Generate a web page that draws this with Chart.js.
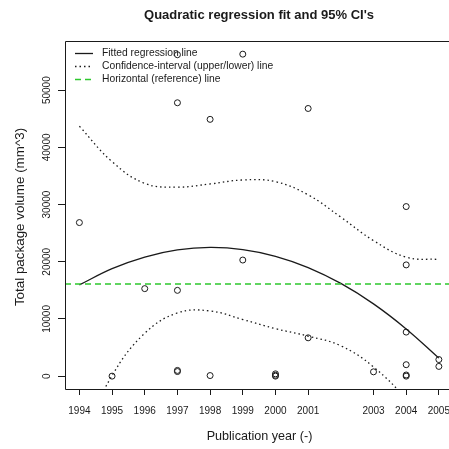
<!DOCTYPE html>
<html>
<head>
<meta charset="utf-8">
<script src="https://cdn.jsdelivr.net/npm/chart.js@4.4.1/dist/chart.umd.min.js"></script>
<style>
  html, body { margin: 0; padding: 0; background: #fff; overflow: hidden; }
  #wrap { width: 449px; height: 449px; position: relative; }
</style>
</head>
<body>
<div id="wrap"><canvas id="chart"></canvas></div>
<script>
// observed points (year, volume)
const pointYears   = [1994, 1995, 1996, 1997, 1997, 1997, 1997, 1997, 1998, 1998, 1999, 1999, 2000, 2000, 2000, 2001, 2001, 2003, 2004, 2004, 2004, 2004, 2004, 2004, 2005, 2005];
const pointVolumes = [26850, 0, 15300, 56200, 47800, 15000, 1000, 800, 44900, 100, 56300, 20300, 400, 150, 0, 46800, 6700, 750, 29650, 19450, 7700, 2000, 200, 0, 2900, 1700];

// curves, one value per year
const curveYears = [1994, 1995, 1996, 1997, 1998, 1999, 2000, 2001, 2002, 2003, 2004, 2005];
const fitValues   = [15950, 18800, 20830, 22070, 22500, 22130, 20960, 18990, 16210, 12640, 8260, 3150];
const upperValues = [43700, 37500, 33700, 33050, 33600, 34300, 34000, 31700, 27800, 23700, 20800, 20400];
const lowerValues = [-11800, 100, 7500, 11050, 11400, 9900, 8300, 7000, 5300, 1600, -4300, -14000];

const refValue = 16100;

const xTicks = [1994, 1995, 1996, 1997, 1998, 1999, 2000, 2001, 2003, 2004, 2005];
const yTicks = [0, 10000, 20000, 30000, 40000, 50000];

const legendLabels = ['Fitted regression line', 'Confidence-interval (upper/lower) line', 'Horizontal (reference) line'];

const xMin = 1993.56, xMax = 2005.31;
const yMin = -2250, yMax = 58600;

const FONT = '"Liberation Sans", Arial, Helvetica, sans-serif';
const INK = '#1a1a1a';
const GREEN = '#2ec82e';

function toXY(xs, ys) {
    return xs.map((x, i) => ({ x: x, y: ys[i] }));
}

// R-like decorations: box, rotated y labels, titles and legend
const rDecor = {
    id: 'rDecor',
    afterDraw(chart) {
        const ctx = chart.ctx;
        const a = chart.chartArea;
        const ys = chart.scales.y;
        ctx.save();
        ctx.strokeStyle = INK;
        ctx.lineWidth = 1;
        ctx.beginPath();
        ctx.moveTo(a.right + 1, a.top + 0.5);
        ctx.lineTo(a.left + 0.5, a.top + 0.5);
        ctx.lineTo(a.left + 0.5, a.bottom + 0.5);
        ctx.lineTo(a.right + 1, a.bottom + 0.5);
        ctx.stroke();

        // y tick labels, rotated
        ctx.fillStyle = INK;
        ctx.font = '10px ' + FONT;
        ctx.textAlign = 'center';
        ctx.textBaseline = 'middle';
        yTicks.forEach(v => {
            const py = ys.getPixelForValue(v);
            ctx.save();
            ctx.translate(47, py);
            ctx.rotate(-Math.PI / 2);
            ctx.fillText(String(v), 0, 0);
            ctx.restore();
        });

        // axis titles
        ctx.font = '12.6px ' + FONT;
        ctx.fillText('Publication year (-)', 259.5, 437);
        ctx.save();
        ctx.translate(20, 217);
        ctx.rotate(-Math.PI / 2);
        ctx.font = '13.4px ' + FONT;
        ctx.fillText('Total package volume (mm^3)', 0, 0);
        ctx.restore();

        // main title
        ctx.font = 'bold 13px ' + FONT;
        ctx.fillText("Quadratic regression fit and 95% CI's", 259, 15);

        // legend
        ctx.font = '10.3px ' + FONT;
        ctx.textAlign = 'left';
        const styles = [
            { color: INK, dash: [], width: 1.3 },
            { color: INK, dash: [1.5, 3], width: 1.3 },
            { color: GREEN, dash: [6, 4], width: 1.5 }
        ];
        legendLabels.forEach((lab, i) => {
            const ly = 53 + i * 13;
            ctx.save();
            ctx.strokeStyle = styles[i].color;
            ctx.lineWidth = styles[i].width;
            ctx.setLineDash(styles[i].dash);
            ctx.beginPath();
            ctx.moveTo(75, ly + 0.5);
            ctx.lineTo(93, ly + 0.5);
            ctx.stroke();
            ctx.restore();
            ctx.fillStyle = INK;
            ctx.fillText(lab, 102, ly);
        });
        ctx.restore();
    }
};

const ctx = document.getElementById('chart').getContext('2d');
new Chart(ctx, {
    type: 'scatter',
    data: {
        datasets: [
            {
                label: 'Reference',
                type: 'line',
                data: toXY([xMin, xMax], [refValue, refValue]),
                borderColor: GREEN,
                borderWidth: 1.5,
                borderDash: [6, 4],
                pointRadius: 0,
                fill: false
            },
            {
                label: 'Fit',
                type: 'line',
                data: toXY(curveYears, fitValues),
                borderColor: INK,
                borderWidth: 1.3,
                pointRadius: 0,
                tension: 0.4,
                fill: false
            },
            {
                label: 'Upper CI',
                type: 'line',
                data: toXY(curveYears, upperValues),
                borderColor: INK,
                borderWidth: 1.3,
                borderDash: [1.5, 3],
                pointRadius: 0,
                tension: 0.4,
                fill: false
            },
            {
                label: 'Lower CI',
                type: 'line',
                data: toXY(curveYears, lowerValues),
                borderColor: INK,
                borderWidth: 1.3,
                borderDash: [1.5, 3],
                pointRadius: 0,
                tension: 0.4,
                fill: false
            },
            {
                label: 'Observed',
                data: toXY(pointYears, pointVolumes),
                pointStyle: 'circle',
                pointRadius: 3,
                pointBorderWidth: 1,
                borderColor: INK,
                backgroundColor: 'rgba(0,0,0,0)'
            }
        ]
    },
    options: {
        responsive: true,
        maintainAspectRatio: false,
        animation: false,
        layout: { autoPadding: false, padding: { left: 0, top: 41, right: 0, bottom: 0 } },
        plugins: {
            legend: { display: false },
            tooltip: { enabled: false }
        },
        scales: {
            x: {
                type: 'linear',
                min: xMin,
                max: xMax,
                afterBuildTicks: (scale) => { scale.ticks = xTicks.map(v => ({ value: v })); },
                afterFit: (scale) => {
                    scale.height = 60;
                    scale.paddingLeft = 0;
                    scale.paddingRight = 0;
                },
                border: { display: false },
                grid: { drawOnChartArea: false, drawTicks: true, tickLength: 6, color: INK, tickColor: INK },
                ticks: {
                    color: INK,
                    font: { family: FONT, size: 10 },
                    padding: 10,
                    maxRotation: 0,
                    autoSkip: false,
                    callback: (v) => String(v)
                }
            },
            y: {
                type: 'linear',
                min: yMin,
                max: yMax,
                afterBuildTicks: (scale) => { scale.ticks = yTicks.map(v => ({ value: v })); },
                afterFit: (scale) => {
                    scale.width = 65;
                    scale.paddingTop = 0;
                    scale.paddingBottom = 0;
                },
                border: { display: false },
                grid: { drawOnChartArea: false, drawTicks: true, tickLength: 7, color: INK, tickColor: INK },
                ticks: { display: false }
            }
        }
    },
    plugins: [rDecor]
});
</script>
</body>
</html>
